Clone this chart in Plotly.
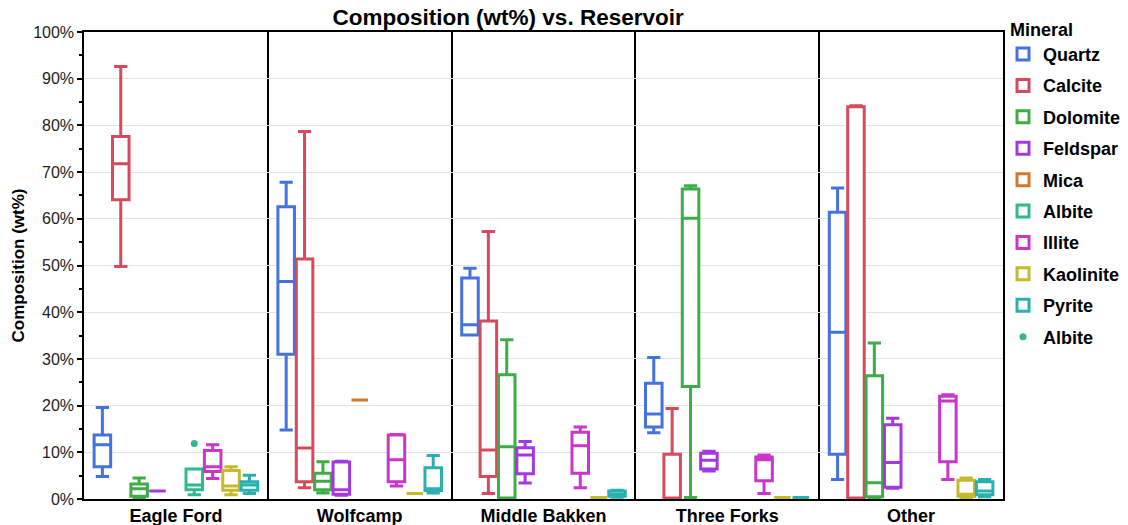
import plotly.graph_objects as go

reservoirs = ["Eagle Ford", "Wolfcamp", "Middle Bakken", "Three Forks", "Other"]
minerals = ["Quartz", "Calcite", "Dolomite", "Feldspar", "Mica", "Albite",
            "Illite", "Kaolinite", "Pyrite"]
colors = ["#4472E0", "#D64B5B", "#3DAE47", "#A438E0", "#D4792A", "#2DBA8E",
          "#C936C9", "#C4BA2C", "#2BB0B0"]

# stats per mineral: reservoir -> (lowerfence, q1, median, q3, upperfence)
quartz = {"Eagle Ford": (4.8, 6.9, 11.6, 13.7, 19.6),
          "Wolfcamp": (14.8, 31.0, 46.6, 62.6, 67.8),
          "Middle Bakken": (35.1, 35.1, 37.3, 47.3, 49.4),
          "Three Forks": (14.2, 15.4, 18.2, 24.8, 30.3),
          "Other": (4.2, 9.6, 35.7, 61.4, 66.6)}
calcite = {"Eagle Ford": (49.8, 64.1, 71.8, 77.6, 92.6),
           "Wolfcamp": (2.4, 3.7, 10.9, 51.4, 78.7),
           "Middle Bakken": (1.2, 4.8, 10.5, 38.1, 57.3),
           "Three Forks": (0.0, 0.0, 0.0, 9.6, 19.4),
           "Other": (0.0, 0.0, 0.0, 84.0, 84.2)}
dolomite = {"Eagle Ford": (0.2, 0.6, 2.2, 3.2, 4.5),
            "Wolfcamp": (1.3, 2.0, 3.8, 5.5, 8.0),
            "Middle Bakken": (0.0, 0.2, 11.2, 26.6, 34.1),
            "Three Forks": (0.3, 24.1, 60.1, 66.4, 67.1),
            "Other": (0.0, 0.5, 3.5, 26.4, 33.4)}
feldspar = {"Eagle Ford": (1.7, 1.7, 1.7, 1.7, 1.7),
            "Wolfcamp": (0.8, 1.0, 2.0, 7.9, 8.1),
            "Middle Bakken": (3.4, 5.4, 9.4, 11.0, 12.3),
            "Three Forks": (6.0, 6.4, 8.3, 9.8, 10.2),
            "Other": (2.3, 2.5, 7.8, 15.9, 17.3)}
mica = {"Wolfcamp": (21.2, 21.2, 21.2, 21.2, 21.2)}
albite = {"Eagle Ford": (0.9, 2.0, 3.0, 6.4, 6.4)}
albite_outliers = {"Eagle Ford": [11.9]}
illite = {"Eagle Ford": (4.4, 5.9, 6.9, 10.4, 11.6),
          "Wolfcamp": (2.8, 3.7, 8.4, 13.7, 13.8),
          "Middle Bakken": (2.4, 5.5, 11.4, 14.3, 15.4),
          "Three Forks": (1.2, 3.9, 8.4, 9.0, 9.4),
          "Other": (4.2, 8.0, 21.0, 22.0, 22.3)}
kaolinite = {"Eagle Ford": (0.9, 1.9, 2.8, 6.1, 6.9),
             "Wolfcamp": (1.2, 1.2, 1.2, 1.2, 1.2),
             "Middle Bakken": (0.3, 0.3, 0.3, 0.3, 0.3),
             "Three Forks": (0.3, 0.3, 0.3, 0.3, 0.3),
             "Other": (0.3, 0.6, 1.0, 4.0, 4.5)}
pyrite = {"Eagle Ford": (1.2, 1.9, 3.0, 3.7, 5.1),
          "Wolfcamp": (1.3, 1.8, 2.2, 6.7, 9.3),
          "Middle Bakken": (0.4, 0.6, 1.0, 1.7, 1.9),
          "Three Forks": (0.3, 0.3, 0.3, 0.3, 0.3),
          "Other": (0.5, 0.9, 1.7, 3.7, 4.2)}

data = [quartz, calcite, dolomite, feldspar, mica, albite, illite, kaolinite, pyrite]

FONT = "Liberation Sans"
fig = go.Figure()
for name, col, stats in zip(minerals, colors, data):
    xs = [r for r in reservoirs if r in stats]
    if name == "Albite":
        kw = dict(y=[albite_outliers.get(r, []) for r in xs], boxpoints="outliers",
                  pointpos=0, marker=dict(color=col, size=7))
    else:
        kw = dict(boxpoints=False)
    fig.add_trace(go.Box(
        name=name, x=xs,
        lowerfence=[stats[r][0] for r in xs],
        q1=[stats[r][1] for r in xs],
        median=[stats[r][2] for r in xs],
        q3=[stats[r][3] for r in xs],
        upperfence=[stats[r][4] for r in xs],
        line=dict(color=col, width=3), fillcolor="white",
        whiskerwidth=0.8, legendgroup=name, hoverinfo="skip", **kw))

fig.add_trace(go.Scatter(x=[None], y=[None], mode="markers", name="Albite",
                         legendgroup="albite_pts",
                         marker=dict(color=colors[5], size=7)))

fig.update_layout(
    width=1128, height=525,
    margin=dict(l=84, r=125, t=10, b=26, autoexpand=False),
    paper_bgcolor="white", plot_bgcolor="white",
    boxmode="group", boxgap=0.1, boxgroupgap=0.1,
    font=dict(family=FONT, color="black", size=16),
    title=dict(text="Composition (wt%) vs. Reservoir", x=0.4504, xref="container",
               xanchor="center", y=0.967, yref="container", yanchor="middle",
               font=dict(size=22.5, weight="bold", family=FONT)),
    legend=dict(title=dict(text=" Mineral", font=dict(size=18, weight="bold")),
                font=dict(size=18, weight="bold", family=FONT),
                x=1.0, xanchor="left", y=0.995, yanchor="top",
                traceorder="grouped", tracegroupgap=5,
                bgcolor="rgba(0,0,0,0)"),
    xaxis=dict(categoryorder="array", categoryarray=reservoirs,
               tickson="boundaries", showgrid=True, gridcolor="black", gridwidth=1.5,
               showline=True, linecolor="black", linewidth=1.5, mirror=True,
               ticks="", automargin=False,
               tickfont=dict(size=18, weight="bold", family=FONT)),
    yaxis=dict(range=[0, 100], dtick=10, ticksuffix="%", domain=[0, 467 / 489],
               showgrid=True, gridcolor="#e3e3e3", gridwidth=1,
               showline=True, linecolor="black", linewidth=1.5, mirror=True,
               ticks="outside", ticklen=5, tickwidth=1.5, tickcolor="black",
               minor=dict(dtick=5, ticks="outside", ticklen=3, tickcolor="black",
                          showgrid=False),
               zeroline=False, automargin=False,
               tickfont=dict(size=16, family=FONT, color="#222"),
               title=dict(text="Composition (wt%)", standoff=4,
                          font=dict(size=17, weight="bold", family=FONT))),
)

fig.write_html("out.html", config={"displayModeBar": False},
               post_script="document.body.style.margin='0';document.body.style.padding='0';")
